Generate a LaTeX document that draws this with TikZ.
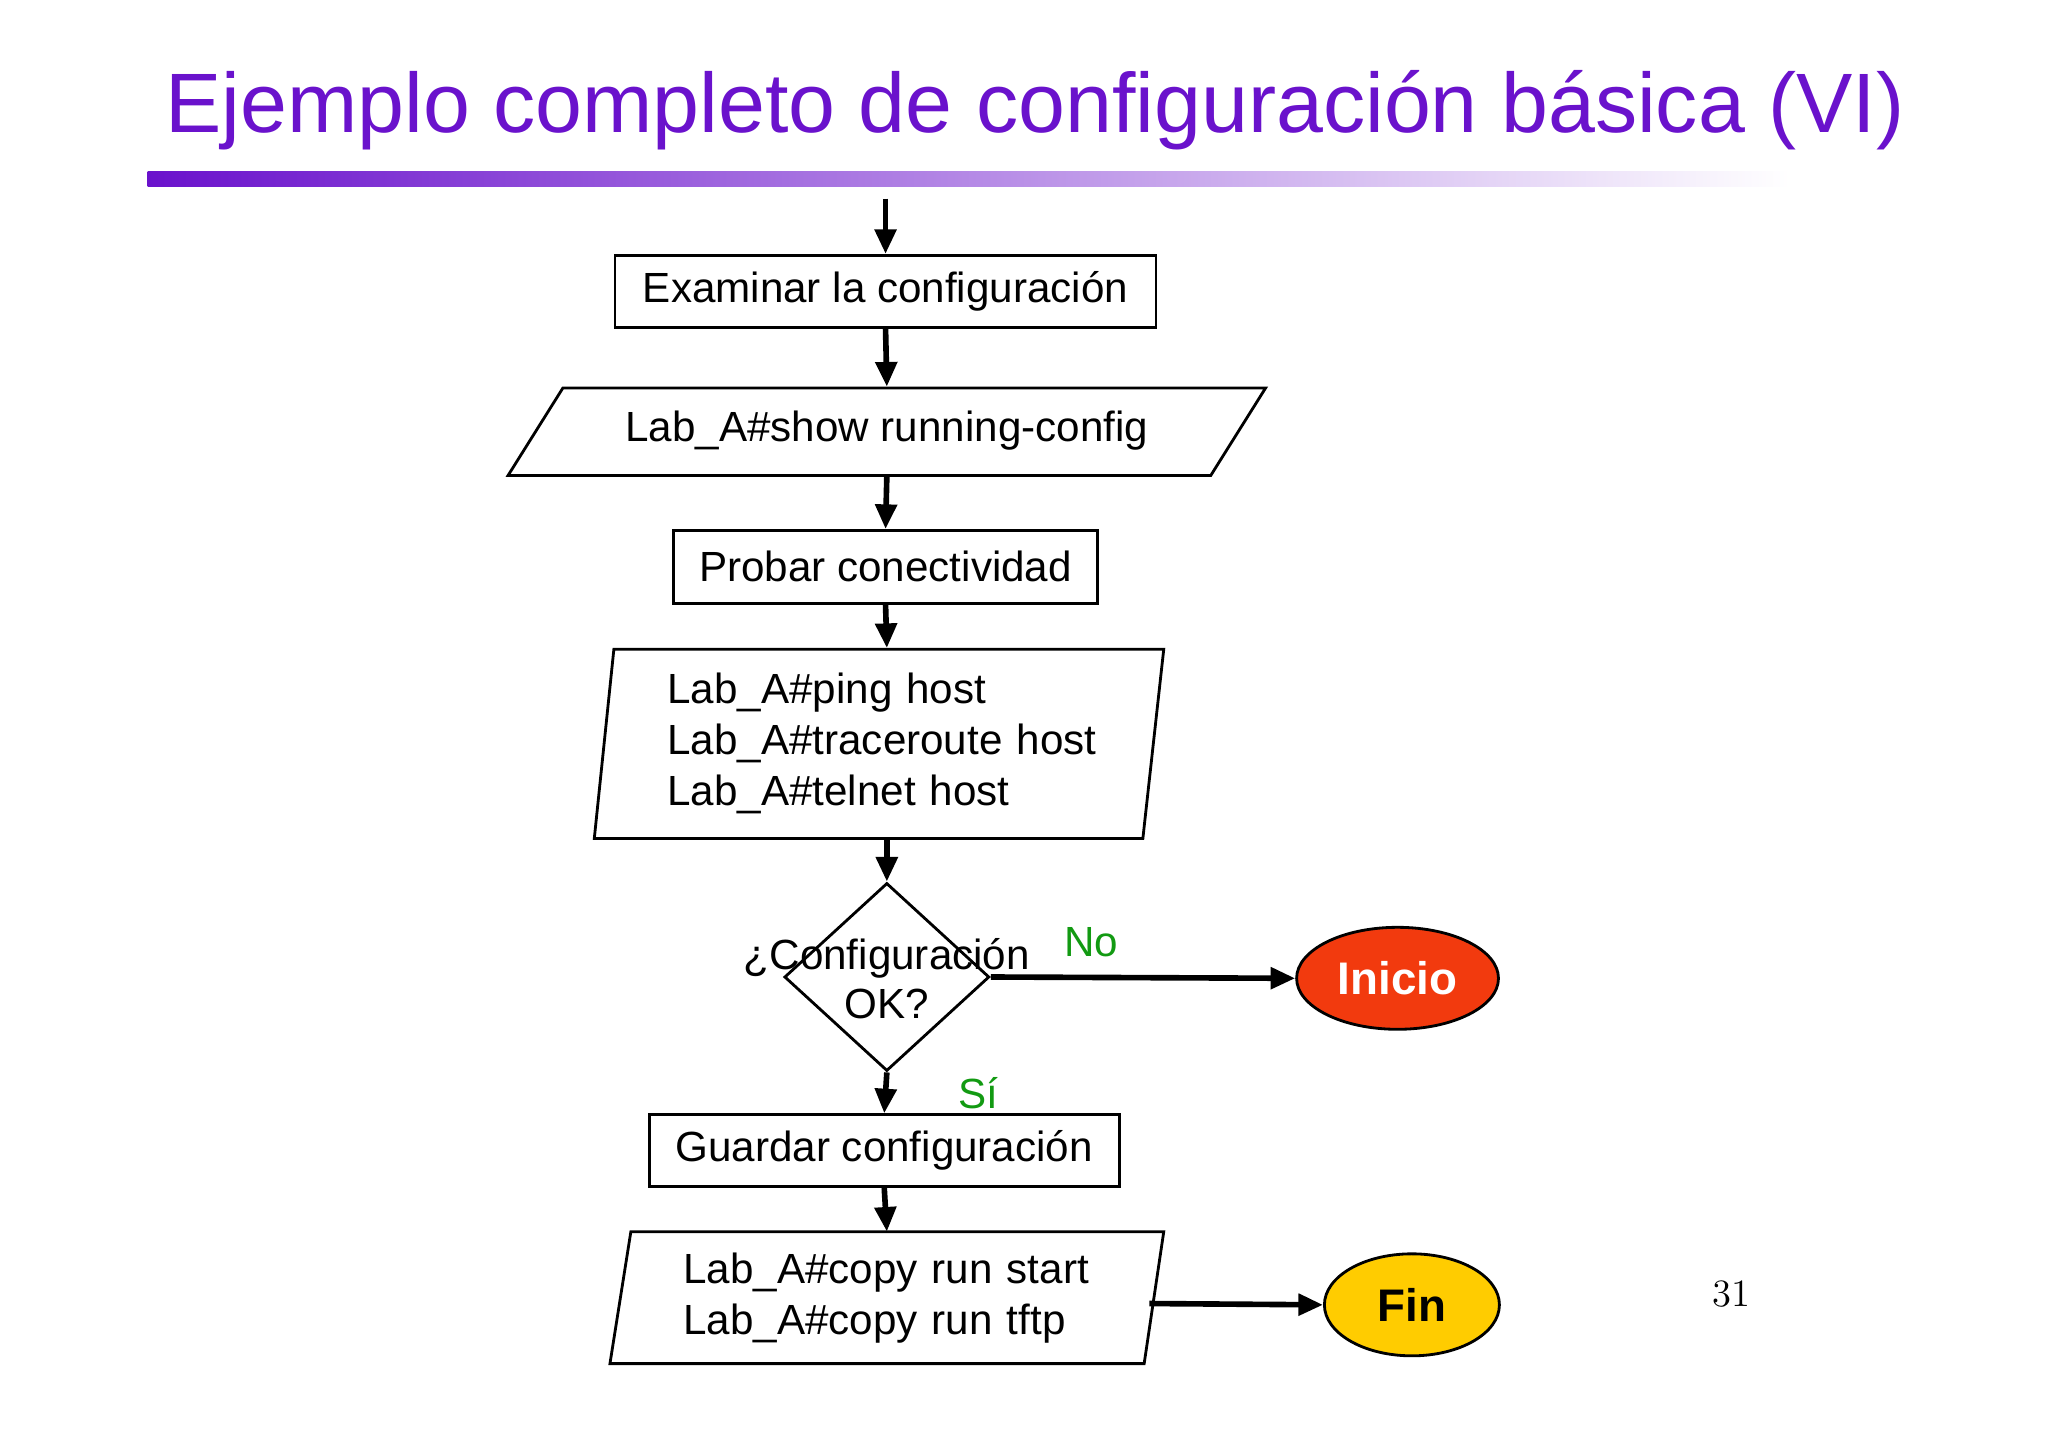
\documentclass[tikz,border=0pt]{standalone}
\usepackage{fontspec}
\setmainfont{Liberation Sans}
\usetikzlibrary{arrows.meta,shapes.geometric}
\definecolor{titlepurple}{HTML}{6A12CC}
\definecolor{yesno}{HTML}{129A12}
\definecolor{iniciored}{HTML}{F23A0E}
\definecolor{finyellow}{HTML}{FFCC00}
\begin{document}
\begin{tikzpicture}[
    x=0.01306cm, y=-0.01306cm,
    box/.style={rectangle, draw, line width=0.8pt, font=\fontsize{12}{14}\selectfont, align=center, inner sep=0pt},
    ptext/.style={font=\fontsize{12}{14.5}\selectfont, inner sep=0pt, align=left},
    para/.style={draw, line width=0.8pt},
    term/.style={ellipse, draw, line width=0.8pt, minimum width=1.75cm, minimum height=1.02cm, font=\fontsize{13}{15}\selectfont\bfseries},
    arrow/.style={-{Triangle[length=7pt,width=6pt]}, line width=1.6pt},
    lbl/.style={font=\fontsize{12}{14}\selectfont, text=yesno, inner sep=0pt}
]
    \useasboundingbox (0,0) rectangle (1568,1108);
    % Title and bar
    \node[anchor=west, text=titlepurple, font=\fontsize{24}{28}\selectfont, inner sep=0pt] (title) at (126,84) {Ejemplo completo de configuración básica (VI)};
    \shade[left color=titlepurple, right color=white] (113,131) rectangle (1370,143);

    % Boxes
    \coordinate (start) at (678,152);
    \node[box, minimum width=5.41cm, minimum height=0.72cm] (exam) at (678,223) {Examinar la configuración};
    \draw[para] (431,297) -- (969,297) -- (927,364) -- (389,364) -- cycle;
    \node[ptext, minimum height=0.875cm] (show) at (679,330) {Lab\_A\#show running-config};
    \node[box, minimum width=4.24cm, minimum height=0.73cm] (probar) at (678,434) {Probar conectividad};
    \draw[para] (470,497) -- (891,497) -- (875,642) -- (455,642) -- cycle;
    \node[ptext, text width=4.39cm, minimum height=1.89cm] (ping) at (679,569) {Lab\_A\#ping host\\Lab\_A\#traceroute host\\Lab\_A\#telnet host};
    \node[diamond, draw, line width=0.8pt, minimum width=2.05cm, minimum height=1.88cm, inner sep=0pt] (ok) at (679,748) {};
    \node[font=\fontsize{12}{14}\selectfont, align=center, inner sep=0pt] (oktext) at (679,749) {¿Configuración\\OK?};
    \node[term, fill=iniciored, text=white] (inicio) at (1070,749) {Inicio};
    \node[box, minimum width=4.70cm, minimum height=0.72cm] (guardar) at (677,881) {Guardar configuración};
    \draw[para] (483,943) -- (891,943) -- (876,1044) -- (467,1044) -- cycle;
    \node[ptext, text width=4.07cm, minimum height=1.32cm] (copy) at (679,994) {Lab\_A\#copy run start\\Lab\_A\#copy run tftp};
    \coordinate (copyout) at (880,998);
    \node[term, fill=finyellow] (fin) at (1081,999) {Fin};

    % Arrows
    \draw[arrow] (start) -- (exam.north);
    \draw[arrow] (exam.south) -- (show.north);
    \draw[arrow] (show.south) -- (probar.north);
    \draw[arrow] (probar.south) -- (ping.north);
    \draw[arrow] (ping.south) -- (ok.north);
    \draw[arrow] (ok.east) -- node[lbl, pos=0.33, above=5pt] {No} (inicio.west);
    \draw[arrow] (ok.south) -- node[lbl, right=20pt] {Sí} (guardar.north);
    \draw[arrow] (guardar.south) -- (copy.north);
    \draw[arrow] (copyout) -- (fin.west);

    % Page number
    \node[font=\fontfamily{lmr}\selectfont\fontsize{11}{13}\selectfont, inner sep=0pt] (page) at (1326,991) {31};
\end{tikzpicture}
\end{document}
